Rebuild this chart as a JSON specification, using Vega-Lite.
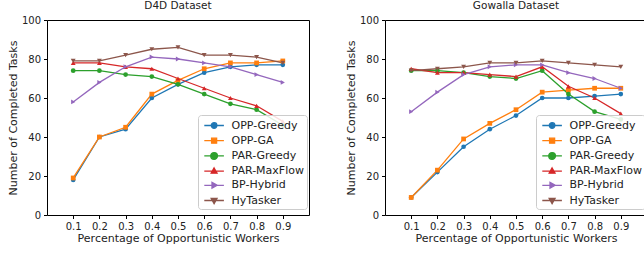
{
  "$schema": "https://vega.github.io/schema/vega-lite/v6.json",
  "padding": {"left": 6, "top": 0, "right": 0, "bottom": 0},
  "background": "white",
  "config": {
    "font": "DejaVu Sans",
    "view": {"stroke": "#000", "strokeWidth": 1},
    "axis": {"grid": false, "domain": false, "tickColor": "#000", "tickSize": 3.5, "labelColor": "#222", "titleColor": "#222", "labelFontSize": 10, "titleFontSize": 11, "titleFontWeight": "normal", "labelFont": "DejaVu Sans", "titleFont": "DejaVu Sans"},
    "title": {"fontSize": 10.5, "fontWeight": "normal", "color": "#222", "offset": 4, "font": "DejaVu Sans"},
    "concat": {"spacing": 34}
  },
  "data": {"values": [
    {"d":"D4D","s":"OPP-Greedy","x":0.1,"y":18},{"d":"D4D","s":"OPP-Greedy","x":0.2,"y":40},{"d":"D4D","s":"OPP-Greedy","x":0.3,"y":44},{"d":"D4D","s":"OPP-Greedy","x":0.4,"y":60},{"d":"D4D","s":"OPP-Greedy","x":0.5,"y":67},{"d":"D4D","s":"OPP-Greedy","x":0.6,"y":73},{"d":"D4D","s":"OPP-Greedy","x":0.7,"y":76},{"d":"D4D","s":"OPP-Greedy","x":0.8,"y":77},{"d":"D4D","s":"OPP-Greedy","x":0.9,"y":77},
    {"d":"D4D","s":"OPP-GA","x":0.1,"y":19},{"d":"D4D","s":"OPP-GA","x":0.2,"y":40},{"d":"D4D","s":"OPP-GA","x":0.3,"y":45},{"d":"D4D","s":"OPP-GA","x":0.4,"y":62},{"d":"D4D","s":"OPP-GA","x":0.5,"y":69},{"d":"D4D","s":"OPP-GA","x":0.6,"y":75},{"d":"D4D","s":"OPP-GA","x":0.7,"y":78},{"d":"D4D","s":"OPP-GA","x":0.8,"y":78},{"d":"D4D","s":"OPP-GA","x":0.9,"y":79},
    {"d":"D4D","s":"PAR-Greedy","x":0.1,"y":74},{"d":"D4D","s":"PAR-Greedy","x":0.2,"y":74},{"d":"D4D","s":"PAR-Greedy","x":0.3,"y":72},{"d":"D4D","s":"PAR-Greedy","x":0.4,"y":71},{"d":"D4D","s":"PAR-Greedy","x":0.5,"y":67},{"d":"D4D","s":"PAR-Greedy","x":0.6,"y":62},{"d":"D4D","s":"PAR-Greedy","x":0.7,"y":57},{"d":"D4D","s":"PAR-Greedy","x":0.8,"y":54},{"d":"D4D","s":"PAR-Greedy","x":0.9,"y":46},
    {"d":"D4D","s":"PAR-MaxFlow","x":0.1,"y":78},{"d":"D4D","s":"PAR-MaxFlow","x":0.2,"y":78},{"d":"D4D","s":"PAR-MaxFlow","x":0.3,"y":76},{"d":"D4D","s":"PAR-MaxFlow","x":0.4,"y":75},{"d":"D4D","s":"PAR-MaxFlow","x":0.5,"y":70},{"d":"D4D","s":"PAR-MaxFlow","x":0.6,"y":65},{"d":"D4D","s":"PAR-MaxFlow","x":0.7,"y":60},{"d":"D4D","s":"PAR-MaxFlow","x":0.8,"y":56},{"d":"D4D","s":"PAR-MaxFlow","x":0.9,"y":48},
    {"d":"D4D","s":"BP-Hybrid","x":0.1,"y":58},{"d":"D4D","s":"BP-Hybrid","x":0.2,"y":68},{"d":"D4D","s":"BP-Hybrid","x":0.3,"y":76},{"d":"D4D","s":"BP-Hybrid","x":0.4,"y":81},{"d":"D4D","s":"BP-Hybrid","x":0.5,"y":80},{"d":"D4D","s":"BP-Hybrid","x":0.6,"y":78},{"d":"D4D","s":"BP-Hybrid","x":0.7,"y":76},{"d":"D4D","s":"BP-Hybrid","x":0.8,"y":72},{"d":"D4D","s":"BP-Hybrid","x":0.9,"y":68},
    {"d":"D4D","s":"HyTasker","x":0.1,"y":79},{"d":"D4D","s":"HyTasker","x":0.2,"y":79},{"d":"D4D","s":"HyTasker","x":0.3,"y":82},{"d":"D4D","s":"HyTasker","x":0.4,"y":85},{"d":"D4D","s":"HyTasker","x":0.5,"y":86},{"d":"D4D","s":"HyTasker","x":0.6,"y":82},{"d":"D4D","s":"HyTasker","x":0.7,"y":82},{"d":"D4D","s":"HyTasker","x":0.8,"y":81},{"d":"D4D","s":"HyTasker","x":0.9,"y":78},
    {"d":"Gowalla","s":"OPP-Greedy","x":0.1,"y":9},{"d":"Gowalla","s":"OPP-Greedy","x":0.2,"y":22},{"d":"Gowalla","s":"OPP-Greedy","x":0.3,"y":35},{"d":"Gowalla","s":"OPP-Greedy","x":0.4,"y":44},{"d":"Gowalla","s":"OPP-Greedy","x":0.5,"y":51},{"d":"Gowalla","s":"OPP-Greedy","x":0.6,"y":60},{"d":"Gowalla","s":"OPP-Greedy","x":0.7,"y":60},{"d":"Gowalla","s":"OPP-Greedy","x":0.8,"y":61},{"d":"Gowalla","s":"OPP-Greedy","x":0.9,"y":62},
    {"d":"Gowalla","s":"OPP-GA","x":0.1,"y":9},{"d":"Gowalla","s":"OPP-GA","x":0.2,"y":23},{"d":"Gowalla","s":"OPP-GA","x":0.3,"y":39},{"d":"Gowalla","s":"OPP-GA","x":0.4,"y":47},{"d":"Gowalla","s":"OPP-GA","x":0.5,"y":54},{"d":"Gowalla","s":"OPP-GA","x":0.6,"y":63},{"d":"Gowalla","s":"OPP-GA","x":0.7,"y":64},{"d":"Gowalla","s":"OPP-GA","x":0.8,"y":65},{"d":"Gowalla","s":"OPP-GA","x":0.9,"y":65},
    {"d":"Gowalla","s":"PAR-Greedy","x":0.1,"y":74},{"d":"Gowalla","s":"PAR-Greedy","x":0.2,"y":74},{"d":"Gowalla","s":"PAR-Greedy","x":0.3,"y":73},{"d":"Gowalla","s":"PAR-Greedy","x":0.4,"y":71},{"d":"Gowalla","s":"PAR-Greedy","x":0.5,"y":70},{"d":"Gowalla","s":"PAR-Greedy","x":0.6,"y":74},{"d":"Gowalla","s":"PAR-Greedy","x":0.7,"y":62},{"d":"Gowalla","s":"PAR-Greedy","x":0.8,"y":53},{"d":"Gowalla","s":"PAR-Greedy","x":0.9,"y":49},
    {"d":"Gowalla","s":"PAR-MaxFlow","x":0.1,"y":75},{"d":"Gowalla","s":"PAR-MaxFlow","x":0.2,"y":73},{"d":"Gowalla","s":"PAR-MaxFlow","x":0.3,"y":73},{"d":"Gowalla","s":"PAR-MaxFlow","x":0.4,"y":72},{"d":"Gowalla","s":"PAR-MaxFlow","x":0.5,"y":71},{"d":"Gowalla","s":"PAR-MaxFlow","x":0.6,"y":76},{"d":"Gowalla","s":"PAR-MaxFlow","x":0.7,"y":66},{"d":"Gowalla","s":"PAR-MaxFlow","x":0.8,"y":60},{"d":"Gowalla","s":"PAR-MaxFlow","x":0.9,"y":52},
    {"d":"Gowalla","s":"BP-Hybrid","x":0.1,"y":53},{"d":"Gowalla","s":"BP-Hybrid","x":0.2,"y":63},{"d":"Gowalla","s":"BP-Hybrid","x":0.3,"y":72},{"d":"Gowalla","s":"BP-Hybrid","x":0.4,"y":76},{"d":"Gowalla","s":"BP-Hybrid","x":0.5,"y":77},{"d":"Gowalla","s":"BP-Hybrid","x":0.6,"y":77},{"d":"Gowalla","s":"BP-Hybrid","x":0.7,"y":73},{"d":"Gowalla","s":"BP-Hybrid","x":0.8,"y":70},{"d":"Gowalla","s":"BP-Hybrid","x":0.9,"y":65},
    {"d":"Gowalla","s":"HyTasker","x":0.1,"y":74},{"d":"Gowalla","s":"HyTasker","x":0.2,"y":75},{"d":"Gowalla","s":"HyTasker","x":0.3,"y":76},{"d":"Gowalla","s":"HyTasker","x":0.4,"y":78},{"d":"Gowalla","s":"HyTasker","x":0.5,"y":78},{"d":"Gowalla","s":"HyTasker","x":0.6,"y":79},{"d":"Gowalla","s":"HyTasker","x":0.7,"y":78},{"d":"Gowalla","s":"HyTasker","x":0.8,"y":77},{"d":"Gowalla","s":"HyTasker","x":0.9,"y":76}
  ]},
  "resolve": {"legend": {"color": "independent"}},
  "hconcat": [
    {
      "title": "D4D Dataset",
      "width": 262,
      "height": 195,
      "transform": [{"filter": "datum.d === 'D4D'"}],
      "encoding": {
        "x": {"field": "x", "type": "quantitative", "scale": {"domain": [0, 1], "nice": false}, "axis": {"values": [0.1,0.2,0.3,0.4,0.5,0.6,0.7,0.8,0.9], "format": ".1f", "title": "Percentage of Opportunistic Workers", "titlePadding": 1, "labelPadding": 3}},
        "y": {"field": "y", "type": "quantitative", "scale": {"domain": [0, 100], "nice": false}, "axis": {"values": [0,20,40,60,80,100], "title": "Number of Completed Tasks", "titlePadding": 3, "labelPadding": 3}}
      },
      "layer": [
        {
          "mark": {"type": "line", "strokeWidth": 1.3},
          "encoding": {
            "color": {"field": "s", "type": "nominal",
              "scale": {"domain": ["OPP-Greedy","OPP-GA","PAR-Greedy","PAR-MaxFlow","BP-Hybrid","HyTasker"], "range": ["#1f77b4","#ff7f0e","#2ca02c","#d62728","#9467bd","#8c564b"]},
              "legend": {"title": null, "orient": "none", "legendX": 151, "legendY": 95, "symbolSize": 196, "symbolStrokeWidth": 1.3, "labelFontSize": 11, "labelColor": "#222", "labelFont": "DejaVu Sans", "rowPadding": 1.2, "labelOffset": 15, "padding": 2.5, "fillColor": "rgba(255,255,255,0.85)", "strokeColor": "#ccc", "cornerRadius": 3,
                "encode": {"symbols": {"update": {
                  "shape": {"signal": "datum.value === 'OPP-Greedy' ? 'M-0.6,0L2.2,0M1.2,0A0.4,0.4,0,1,1,0.4,0A0.4,0.4,0,1,1,1.2,0Z' : datum.value === 'OPP-GA' ? 'M-0.6,0L2.2,0M0.44,-0.36L1.16,-0.36L1.16,0.36L0.44,0.36Z' : datum.value === 'PAR-Greedy' ? 'M-0.6,0L2.2,0M1.28,0A0.48,0.48,0,1,1,0.32,0A0.48,0.48,0,1,1,1.28,0Z' : datum.value === 'PAR-MaxFlow' ? 'M-0.6,0L2.2,0M0.8,-0.45L1.22,0.3L0.38,0.3Z' : datum.value === 'BP-Hybrid' ? 'M-0.6,0L2.2,0M1.25,0L0.5,0.42L0.5,-0.42Z' : 'M-0.6,0L2.2,0M0.8,0.45L1.22,-0.3L0.38,-0.3Z'"},
                  "fill": {"signal": "scale('color', datum.value)"},
                  "stroke": {"signal": "scale('color', datum.value)"},
                  "opacity": {"value": 1}
                }}}
              }
            }
          }
        },
        {
          "mark": {"type": "point", "filled": true, "opacity": 1},
          "encoding": {
            "color": {"field": "s", "type": "nominal", "legend": null},
            "shape": {"field": "s", "type": "nominal", "legend": null, "scale": {"domain": ["OPP-Greedy","OPP-GA","PAR-Greedy","PAR-MaxFlow","BP-Hybrid","HyTasker"], "range": ["circle","square","circle","triangle-up","triangle-right","triangle-down"]}},
            "size": {"field": "s", "type": "nominal", "legend": null, "scale": {"domain": ["OPP-Greedy","OPP-GA","PAR-Greedy","PAR-MaxFlow","BP-Hybrid","HyTasker"], "range": [22, 24, 34, 24, 24, 26]}}
          }
        }
      ]
    },
    {
      "title": "Gowalla Dataset",
      "width": 262,
      "height": 195,
      "transform": [{"filter": "datum.d === 'Gowalla'"}],
      "encoding": {
        "x": {"field": "x", "type": "quantitative", "scale": {"domain": [0, 1], "nice": false}, "axis": {"values": [0.1,0.2,0.3,0.4,0.5,0.6,0.7,0.8,0.9], "format": ".1f", "title": "Percentage of Opportunistic Workers", "titlePadding": 1, "labelPadding": 3}},
        "y": {"field": "y", "type": "quantitative", "scale": {"domain": [0, 100], "nice": false}, "axis": {"values": [0,20,40,60,80,100], "title": "Number of Completed Tasks", "titlePadding": 3, "labelPadding": 3}}
      },
      "layer": [
        {
          "mark": {"type": "line", "strokeWidth": 1.3},
          "encoding": {
            "color": {"field": "s", "type": "nominal",
              "scale": {"domain": ["OPP-Greedy","OPP-GA","PAR-Greedy","PAR-MaxFlow","BP-Hybrid","HyTasker"], "range": ["#1f77b4","#ff7f0e","#2ca02c","#d62728","#9467bd","#8c564b"]},
              "legend": {"title": null, "orient": "none", "legendX": 151, "legendY": 95, "symbolSize": 196, "symbolStrokeWidth": 1.3, "labelFontSize": 11, "labelColor": "#222", "labelFont": "DejaVu Sans", "rowPadding": 1.2, "labelOffset": 15, "padding": 2.5, "fillColor": "rgba(255,255,255,0.85)", "strokeColor": "#ccc", "cornerRadius": 3,
                "encode": {"symbols": {"update": {
                  "shape": {"signal": "datum.value === 'OPP-Greedy' ? 'M-0.6,0L2.2,0M1.2,0A0.4,0.4,0,1,1,0.4,0A0.4,0.4,0,1,1,1.2,0Z' : datum.value === 'OPP-GA' ? 'M-0.6,0L2.2,0M0.44,-0.36L1.16,-0.36L1.16,0.36L0.44,0.36Z' : datum.value === 'PAR-Greedy' ? 'M-0.6,0L2.2,0M1.28,0A0.48,0.48,0,1,1,0.32,0A0.48,0.48,0,1,1,1.28,0Z' : datum.value === 'PAR-MaxFlow' ? 'M-0.6,0L2.2,0M0.8,-0.45L1.22,0.3L0.38,0.3Z' : datum.value === 'BP-Hybrid' ? 'M-0.6,0L2.2,0M1.25,0L0.5,0.42L0.5,-0.42Z' : 'M-0.6,0L2.2,0M0.8,0.45L1.22,-0.3L0.38,-0.3Z'"},
                  "fill": {"signal": "scale('color', datum.value)"},
                  "stroke": {"signal": "scale('color', datum.value)"},
                  "opacity": {"value": 1}
                }}}
              }
            }
          }
        },
        {
          "mark": {"type": "point", "filled": true, "opacity": 1},
          "encoding": {
            "color": {"field": "s", "type": "nominal", "legend": null},
            "shape": {"field": "s", "type": "nominal", "legend": null, "scale": {"domain": ["OPP-Greedy","OPP-GA","PAR-Greedy","PAR-MaxFlow","BP-Hybrid","HyTasker"], "range": ["circle","square","circle","triangle-up","triangle-right","triangle-down"]}},
            "size": {"field": "s", "type": "nominal", "legend": null, "scale": {"domain": ["OPP-Greedy","OPP-GA","PAR-Greedy","PAR-MaxFlow","BP-Hybrid","HyTasker"], "range": [22, 24, 34, 24, 24, 26]}}
          }
        }
      ]
    }
  ]
}
